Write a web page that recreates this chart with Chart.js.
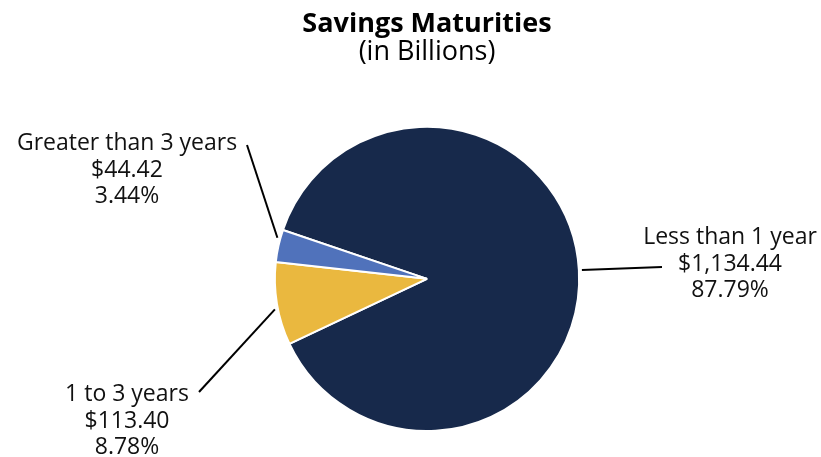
<!DOCTYPE html>
<html>
<head>
<meta charset="utf-8">
<script src="https://cdn.jsdelivr.net/npm/chart.js@4.4.1/dist/chart.umd.min.js"></script>
<style>
  html, body { margin: 0; padding: 0; background: #fff; }
  #wrap { width: 821px; height: 457px; }
</style>
</head>
<body>
<div id="wrap"><canvas id="MaturitiesChart"></canvas></div>
<script>
const categories = ['Less than 1 year', '1 to 3 years', 'Greater than 3 years'];
const amounts = [1134.44, 113.40, 44.42];
const sliceColors = ['#17294b', '#eab83f', '#5072bb'];

const total = amounts.reduce((a, b) => a + b, 0);
const money = v => '$' + v.toLocaleString('en-US', { minimumFractionDigits: 2, maximumFractionDigits: 2 });
const pct = v => (v / total * 100).toFixed(2) + '%';

const FONT = '"Open Sans", sans-serif';

// leader lines + three-line labels beside each slice
const calloutPlugin = {
  id: 'callouts',
  afterDatasetsDraw(chart, args, opts) {
    const c = chart.ctx;
    const meta = chart.getDatasetMeta(0);
    c.save();
    meta.data.forEach((arc, i) => {
      const o = opts.items[i];
      const p = arc.getProps(['x', 'y', 'startAngle', 'endAngle', 'outerRadius'], true);
      const a = p.startAngle + o.at * (p.endAngle - p.startAngle);
      const r = p.outerRadius + 3;
      c.beginPath();
      c.moveTo(p.x + r * Math.cos(a), p.y + r * Math.sin(a));
      c.lineTo(o.end[0], o.end[1]);
      c.lineWidth = 2;
      c.strokeStyle = '#000';
      c.stroke();

      c.fillStyle = '#111';
      c.font = opts.size + 'px ' + FONT;
      c.textAlign = 'center';
      c.textBaseline = 'alphabetic';
      const lines = [categories[i], money(amounts[i]), pct(amounts[i])];
      lines.forEach((t, k) => c.fillText(t, o.tx, o.ty + k * opts.lineGap));
    });
    c.restore();
  }
};

new Chart(document.getElementById('MaturitiesChart'), {
  type: 'pie',
  data: {
    labels: categories,
    datasets: [{
      data: amounts,
      backgroundColor: sliceColors,
      borderColor: '#fff',
      borderWidth: 2,
    }]
  },
  options: {
    responsive: true,
    maintainAspectRatio: false,
    animation: false,
    rotation: 288.7,
    layout: { padding: { top: 0, bottom: 25, left: 150, right: 117 } },
    plugins: {
      legend: { display: false },
      tooltip: { enabled: false },
      title: {
        display: true,
        text: 'Savings Maturities',
        color: '#000',
        font: { family: FONT, size: 27, weight: 'bold', lineHeight: 1.1 },
        padding: { top: 9, bottom: 0 },
      },
      subtitle: {
        display: true,
        text: '(in Billions)',
        color: '#000',
        font: { family: FONT, size: 27, weight: 'normal', lineHeight: 1.0 },
        padding: { top: 0, bottom: 60 },
      },
      callouts: {
        size: 23,
        lineGap: 26.7,
        items: [
          { at: 0.5, end: [662, 267], tx: 730, ty: 244 },
          { at: 0.44, end: [199, 392], tx: 127, ty: 401 },
          { at: 0.73, end: [247, 145], tx: 127, ty: 150 },
        ]
      }
    }
  },
  plugins: [calloutPlugin]
});
</script>
</body>
</html>
